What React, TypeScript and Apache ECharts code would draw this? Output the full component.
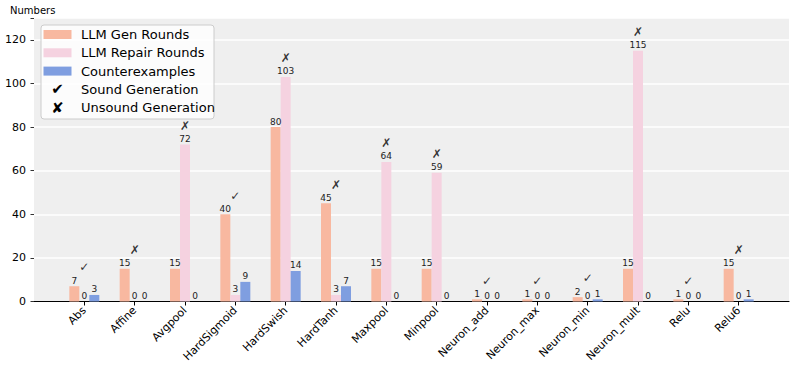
import React, { useEffect, useRef } from "react";
import * as echarts from "echarts";

const categories = ["Abs", "Affine", "Avgpool", "HardSigmoid", "HardSwish", "HardTanh", "Maxpool", "Minpool", "Neuron_add", "Neuron_max", "Neuron_min", "Neuron_mult", "Relu", "Relu6"];
const genRounds = [7, 15, 15, 40, 80, 45, 15, 15, 1, 1, 2, 15, 1, 15];
const repairRounds = [0, 0, 72, 3, 103, 3, 64, 59, 0, 0, 0, 115, 0, 0];
const counterexamples = [3, 0, 0, 9, 14, 7, 0, 0, 0, 0, 1, 0, 0, 1];
const sound = [true, false, false, true, false, false, false, false, true, true, true, false, true, false];
const yTicks = [0, 20, 40, 60, 80, 100, 120];

const FONT = "DejaVu Sans";
const C_GEN = "#f8b8a0";
const C_REP = "#f5d2e0";
const C_CNT = "#7f9ee0";

export default function App() {
  const ref = useRef<HTMLDivElement>(null);
  useEffect(() => {
    if (!ref.current) return;
    const chart = echarts.init(ref.current, null, { renderer: "svg" });
    const cats = ["", ...categories, " "];
    const pad = (a: number[]) => [null, ...a, null];
    const markerOffset = 8.6;
    const soundPts: number[][] = [];
    const unsoundPts: number[][] = [];
    categories.forEach((_, i) => {
      const m = Math.max(genRounds[i], repairRounds[i], counterexamples[i]) + markerOffset;
      (sound[i] ? soundPts : unsoundPts).push([i + 1, m]);
    });
    const barLabel = {
      show: true,
      position: "top",
      distance: 1,
      fontSize: 9,
      fontFamily: FONT,
      color: "#222",
    };
    const legendRows = [
      { kind: "rect", color: C_GEN, text: "LLM Gen Rounds" },
      { kind: "rect", color: C_REP, text: "LLM Repair Rounds" },
      { kind: "rect", color: C_CNT, text: "Counterexamples" },
      { kind: "sym", sym: "\u2714", text: "Sound Generation" },
      { kind: "sym", sym: "\u2718", text: "Unsound Generation" },
    ];
    const legendEls: any[] = [
      {
        type: "text",
        x: 10,
        y: 10,
        style: { text: "Numbers", fontSize: 10, fontFamily: FONT, fill: "#000", align: "left", verticalAlign: "middle" },
      },
      {
        type: "rect",
        shape: { x: 41, y: 25, width: 173, height: 94, r: 3 },
        style: { fill: "rgba(255,255,255,0.8)", stroke: "#cccccc", lineWidth: 1 },
        z: 100,
      },
    ];
    legendRows.forEach((r, k) => {
      const cy = 34.5 + k * 18.3;
      if (r.kind === "rect") {
        legendEls.push({
          type: "rect",
          shape: { x: 43.5, y: cy - 4.5, width: 28, height: 9 },
          style: { fill: r.color },
          z: 101,
        });
      } else {
        legendEls.push({
          type: "text",
          x: 57.5,
          y: cy,
          style: { text: r.sym, fontSize: 15, fontFamily: FONT, fill: "#000", align: "center", verticalAlign: "middle" },
          z: 101,
        });
      }
      legendEls.push({
        type: "text",
        x: 81,
        y: cy,
        style: { text: r.text, fontSize: 13, fontFamily: FONT, fill: "#000", align: "left", verticalAlign: "middle" },
        z: 101,
      });
    });
    chart.setOption({
      animation: false,
      grid: {
        left: 34,
        right: 8,
        top: 18,
        bottom: 69.5,
        show: true,
        backgroundColor: "#efefef",
        borderWidth: 0,
      },
      xAxis: {
        type: "category",
        data: cats,
        boundaryGap: false,
        axisLine: { show: true, lineStyle: { color: "#000", width: 1.2 } },
        axisTick: {
          show: true,
          alignWithLabel: true,
          length: 4,
          interval: (idx: number) => idx > 0 && idx < cats.length - 1,
          lineStyle: { color: "#000", width: 1 },
        },
        axisLabel: {
          interval: 0,
          rotate: 45,
          fontSize: 11,
          fontFamily: FONT,
          color: "#000",
          margin: 7,
        },
        splitLine: { show: false },
      },
      yAxis: {
        type: "value",
        min: 0,
        max: 130,
        interval: 20,
        axisLine: { show: false },
        axisTick: { show: true, length: 3.5, lineStyle: { color: "#333" } },
        axisLabel: {
          fontSize: 11,
          fontFamily: FONT,
          color: "#000",
          margin: 8,
          formatter: (v: number) => (yTicks.includes(v) ? String(v) : ""),
        },
        splitLine: { show: true, lineStyle: { color: "#ffffff", width: 1.5 } },
      },
      series: [
        {
          name: "LLM Gen Rounds",
          type: "bar",
          data: pad(genRounds),
          barWidth: 10,
          barGap: "0%",
          itemStyle: { color: C_GEN },
          label: barLabel,
        },
        {
          name: "LLM Repair Rounds",
          type: "bar",
          data: pad(repairRounds),
          barWidth: 10,
          barGap: "0%",
          itemStyle: { color: C_REP },
          label: barLabel,
        },
        {
          name: "Counterexamples",
          type: "bar",
          data: pad(counterexamples),
          barWidth: 10,
          barGap: "0%",
          itemStyle: { color: C_CNT },
          label: barLabel,
        },
        {
          name: "Sound Generation",
          type: "scatter",
          data: soundPts,
          symbolSize: 0,
          label: { show: true, position: "inside", formatter: "\u2713", fontSize: 12, fontFamily: FONT, color: "#000" },
          z: 5,
        },
        {
          name: "Unsound Generation",
          type: "scatter",
          data: unsoundPts,
          symbolSize: 0,
          label: { show: true, position: "inside", formatter: "\u2717", fontSize: 12, fontFamily: FONT, color: "#000" },
          z: 5,
        },
      ],
      graphic: legendEls,
    });
    return () => chart.dispose();
  }, []);
  return <div ref={ref} style={{ position: "absolute", left: 0, top: 0, width: 797, height: 371 }} />;
}
